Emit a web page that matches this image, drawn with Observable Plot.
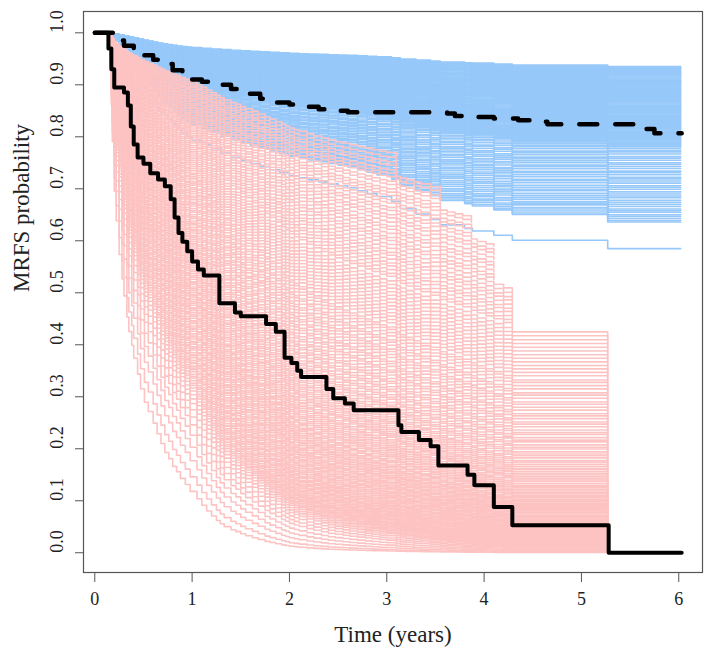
<!DOCTYPE html>
<html>
<head>
<meta charset="utf-8">
<script src="https://cdn.jsdelivr.net/npm/d3@7"></script>
<script src="https://cdn.jsdelivr.net/npm/@observablehq/plot@0.6"></script>
<style>
  html, body { margin: 0; padding: 0; background: #fff; }
  #chart { width: 711px; height: 657px; }
</style>
</head>
<body>
<div id="chart"></div>
<script>
// ---- Tick labels ----
const xTicks = [0, 1, 2, 3, 4, 5, 6];
const yTicks = [0, 0.1, 0.2, 0.3, 0.4, 0.5, 0.6, 0.7, 0.8, 0.9, 1.0];

// ---- High-risk group: reference cumulative-hazard step profile (read from the pink bundle, scaled to 1 at ~1 year) ----
const pinkTimes = [0, 0.15, 0.16, 0.17, 0.18, 0.2, 0.22, 0.25, 0.28, 0.3, 0.33, 0.35, 0.38, 0.4, 0.44, 0.47, 0.51, 0.55, 0.6, 0.64, 0.68, 0.72, 0.76, 0.8, 0.84, 0.88, 0.93, 0.98, 1.05, 1.1, 1.15, 1.2, 1.25, 1.29, 1.33, 1.4, 1.45, 1.5, 1.55, 1.62, 1.68, 1.75, 1.8, 1.86, 1.92, 1.96, 2.0, 2.05, 2.1, 2.18, 2.25, 2.33, 2.4, 2.47, 2.55, 2.62, 2.7, 2.78, 2.85, 2.93, 3.0, 3.1, 3.14, 3.2, 3.28, 3.35, 3.45, 3.55, 3.62, 3.7, 3.78, 3.87, 3.93, 4.02, 4.1, 4.2, 4.29, 5.27];
const pinkHaz   = [0, 0, 0.03, 0.07, 0.11, 0.17, 0.21, 0.26, 0.3, 0.33, 0.37, 0.4, 0.43, 0.46, 0.5, 0.54, 0.58, 0.61, 0.65, 0.69, 0.73, 0.77, 0.8, 0.84, 0.87, 0.91, 0.95, 1.0, 1.06, 1.12, 1.18, 1.24, 1.3, 1.35, 1.4, 1.46, 1.5, 1.55, 1.6, 1.66, 1.72, 1.79, 1.84, 1.9, 1.96, 2.0, 2.05, 2.09, 2.13, 2.19, 2.24, 2.29, 2.34, 2.38, 2.42, 2.46, 2.5, 2.54, 2.58, 2.62, 2.65, 2.72, 2.76, 2.8, 2.85, 2.89, 2.95, 3.02, 3.06, 3.1, 3.14, 3.2, 3.25, 3.3, 3.35, 3.42, 3.5, 3.62];

// High-risk individual curves: survival at 1 year (x1000), grouped by where each curve stops
const pinkTo527 = [118, 146, 177, 203, 226, 246, 261, 275, 287, 296, 304, 311, 317, 322, 326, 331, 336, 339, 343, 348, 352, 355, 359, 364, 366, 370, 375, 379, 381, 385, 390, 393, 396, 401, 404, 406, 411, 415, 417, 421, 426, 430, 432, 436, 441, 444, 446, 451, 455, 458, 462, 466, 469, 471, 476, 480, 483, 487, 491, 494, 497, 501, 505, 508, 511, 516, 519, 521, 526, 530, 533, 537, 541, 544, 548, 552, 556, 558, 562, 567, 570, 573, 577, 581, 584, 588, 592, 595, 599, 603, 607, 610, 615, 619, 622, 626, 631, 634, 638, 643, 646, 650, 655, 658, 662, 667, 671, 674, 679, 683, 686, 691, 695, 699, 702, 707, 711, 714, 719, 723, 727, 730, 735, 739, 743, 747, 751, 755, 759, 763, 767, 771, 775, 779, 783];
const pinkTo429 = [788, 791, 795, 799, 802, 806, 810, 813, 817, 821];
const pinkTo410 = [825, 828, 832, 836, 839, 843, 847, 850, 854];
const pinkTo387 = [857, 861, 864, 868, 871];
const pinkTo355 = [874, 878, 881, 885, 888];
const pinkTo310 = [891, 895, 898, 902, 906];
const pinkEnds = [5.27, 4.29, 4.1, 3.87, 3.55, 3.1];
const pinkSets = [pinkTo527, pinkTo429, pinkTo410, pinkTo387, pinkTo355, pinkTo310];

// ---- Low-risk group: reference cumulative-hazard step profile (scaled to 1 at 6 years) ----
const blueTimes = [0, 0.13, 0.16, 0.2, 0.25, 0.3, 0.35, 0.4, 0.45, 0.5, 0.55, 0.6, 0.65, 0.7, 0.75, 0.8, 0.85, 0.9, 0.95, 1.0, 1.1, 1.2, 1.3, 1.4, 1.5, 1.6, 1.7, 1.8, 1.9, 2.0, 2.1, 2.2, 2.3, 2.4, 2.5, 2.6, 2.7, 2.8, 2.9, 3.05, 3.14, 3.3, 3.45, 3.55, 3.8, 3.88, 4.1, 4.29, 5.27, 6.02];
const blueHaz   = [0, 0, 0.01, 0.03, 0.06, 0.09, 0.12, 0.15, 0.18, 0.21, 0.24, 0.27, 0.295, 0.32, 0.34, 0.36, 0.38, 0.4, 0.415, 0.43, 0.45, 0.47, 0.49, 0.51, 0.525, 0.54, 0.555, 0.57, 0.585, 0.6, 0.61, 0.62, 0.63, 0.64, 0.65, 0.66, 0.675, 0.69, 0.705, 0.73, 0.77, 0.8, 0.83, 0.86, 0.88, 0.895, 0.92, 0.95, 1.0, 1.0];
// Low-risk individual curves: survival at 6 years (x1000)
const blueLevels = [585, 636, 639, 643, 647, 650, 655, 658, 661, 666, 670, 674, 678, 683, 686, 690, 694, 699, 703, 706, 711, 715, 719, 722, 727, 731, 734, 739, 743, 747, 750, 755, 759, 762, 767, 771, 774, 778, 781, 783, 785, 787, 789, 790, 792, 794, 796, 798, 800, 802, 803, 805, 807, 809, 811, 813, 815, 816, 818, 820, 822, 824, 826, 828, 829, 831, 833, 835, 837, 839, 841, 842, 844, 846, 848, 850, 852, 854, 855, 857, 859, 861, 863, 865, 867, 868, 870, 872, 874, 876, 878, 880, 881, 883, 885, 887, 889, 891, 893, 894, 896, 898, 900, 902, 904, 906, 907, 909, 911, 913, 915, 917, 919, 920, 922, 924, 926, 928, 930, 932, 933, 935];

// ---- Kaplan-Meier curves (black) ----
const kmHighT = [0, 0.14, 0.17, 0.2, 0.3, 0.34, 0.37, 0.4, 0.44, 0.5, 0.57, 0.65, 0.72, 0.78, 0.82, 0.86, 0.9, 0.95, 1.0, 1.06, 1.12, 1.28, 1.44, 1.5, 1.76, 1.86, 1.95, 2.02, 2.08, 2.12, 2.38, 2.45, 2.57, 2.66, 3.12, 3.15, 3.33, 3.45, 3.53, 3.83, 3.9, 4.1, 4.29, 5.28, 6.03];
const kmHighS = [1.0, 0.97, 0.93, 0.895, 0.885, 0.86, 0.82, 0.785, 0.76, 0.748, 0.73, 0.718, 0.705, 0.68, 0.645, 0.615, 0.598, 0.58, 0.56, 0.545, 0.533, 0.48, 0.462, 0.455, 0.44, 0.425, 0.375, 0.365, 0.35, 0.338, 0.315, 0.297, 0.287, 0.274, 0.245, 0.232, 0.217, 0.205, 0.168, 0.15, 0.13, 0.088, 0.053, 0, 0];
const kmLowT = [0, 0.12, 0.2, 0.3, 0.4, 0.5, 0.6, 0.7, 0.8, 0.9, 1.0, 1.1, 1.25, 1.4, 1.55, 1.7, 1.85, 2.0, 2.15, 2.3, 2.45, 2.6, 3.62, 3.7, 3.8, 4.1, 4.35, 4.5, 4.65, 5.55, 5.65, 5.75, 6.03];
const kmLowS = [1.0, 1.0, 0.985, 0.975, 0.965, 0.957, 0.948, 0.94, 0.928, 0.918, 0.91, 0.906, 0.9, 0.892, 0.883, 0.873, 0.866, 0.862, 0.858, 0.853, 0.85, 0.847, 0.845, 0.84, 0.838, 0.835, 0.832, 0.829, 0.824, 0.82, 0.815, 0.807, 0.807];

// ---- Build tables ----
function curve(times, haz, level, end, id) {
  const pts = [];
  for (let i = 0; i < times.length; i++) {
    if (times[i] <= end + 1e-9) pts.push({id, t: times[i], s: Math.pow(level, haz[i])});
  }
  return pts;
}
const pinkData = [];
pinkSets.forEach((set, g) => set.forEach((v, j) => {
  pinkData.push(...curve(pinkTimes, pinkHaz, v / 1000, pinkEnds[g], "p" + g + "_" + j));
}));
const blueData = [];
blueLevels.forEach((v, j) => blueData.push(...curve(blueTimes, blueHaz, v / 1000, 6.02, "b" + j)));
const kmHigh = kmHighT.map((t, i) => ({t, s: kmHighS[i]}));
const kmLow = kmLowT.map((t, i) => ({t, s: kmLowS[i]}));

const chart = Plot.plot({
  width: 711,
  height: 657,
  marginLeft: 83,
  marginRight: 9,
  marginTop: 11,
  marginBottom: 85,
  style: {fontFamily: "'Liberation Serif', 'DejaVu Serif', serif", fontSize: "18px", color: "#222", background: "#fff"},
  x: {domain: [-0.116, 6.244]},
  y: {domain: [-0.038, 1.041]},
  marks: [
    Plot.line(blueData, {x: "t", y: "s", z: "id", curve: "step-after", stroke: "#96C8FA", strokeWidth: 1.6}),
    Plot.line(pinkData, {x: "t", y: "s", z: "id", curve: "step-after", stroke: "#FDC3C3", strokeWidth: 1.6}),
    Plot.line(kmHigh, {x: "t", y: "s", curve: "step-after", stroke: "#000", strokeWidth: 4, strokeLinejoin: "round", strokeLinecap: "round"}),
    Plot.line(kmLow, {x: "t", y: "s", curve: "step-after", stroke: "#000", strokeWidth: 4.5, strokeDasharray: "18,18", strokeLinecap: "round", strokeLinejoin: "round"}),
    Plot.frame({stroke: "#555", strokeWidth: 1.2}),
    Plot.axisX(xTicks, {tickSize: 10, tickPadding: 10, fontSize: 18, stroke: "#555", label: null, tickFormat: d => String(d)}),
    Plot.axisY(yTicks, {tickSize: 8, label: null, stroke: "#555", tickFormat: () => ""}),
    Plot.text(yTicks, {y: d => d, text: d => d.toFixed(1), frameAnchor: "left", rotate: -90, dx: -26, lineAnchor: "middle", fontSize: 18, fill: "#222"}),
    Plot.text(["Time (years)"], {frameAnchor: "bottom", dy: 62, lineAnchor: "middle", fontSize: 23, fill: "#222"}),
    Plot.text(["MRFS probability"], {frameAnchor: "left", rotate: -90, dx: -62, lineAnchor: "middle", fontSize: 23, fill: "#222"})
  ]
});
document.getElementById("chart").appendChild(chart);
</script>
</body>
</html>
